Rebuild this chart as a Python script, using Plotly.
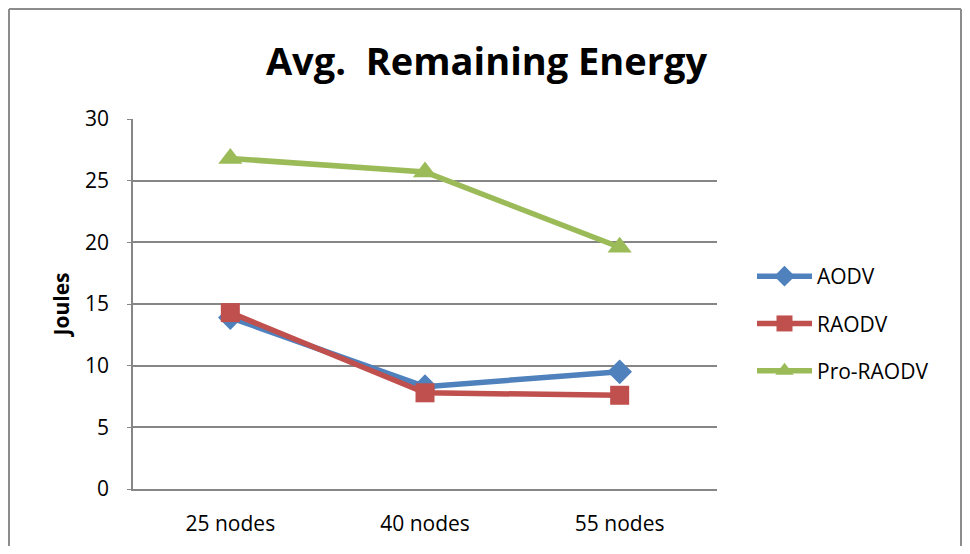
import plotly.graph_objects as go

categories = ["25 nodes", "40 nodes", "55 nodes"]
aodv = [13.9, 8.3, 9.5]
raodv = [14.3, 7.8, 7.6]
pro_raodv = [26.8, 25.7, 19.6]
y_ticks = [0, 5, 10, 15, 20, 25, 30]

series = [
    ("AODV", aodv, "#4F81BD", "diamond", 19),
    ("RAODV", raodv, "#C0504D", "square", 19),
    ("Pro-RAODV", pro_raodv, "#9BBB59", "triangle-up", 21),
]

fig = go.Figure()
for i, (name, vals, color, sym, size) in enumerate(series):
    fig.add_trace(go.Scatter(
        x=categories, y=vals, name=name, mode="lines+markers",
        legendgroup="g%d" % i,
        line=dict(color=color, width=5.5),
        marker=dict(symbol=sym, size=size, color=color),
    ))

OFF = 8  # page body margin
L, R, T, B = 133 - OFF, 717 - OFF, 119 - OFF, 489 - OFF
W, H = 970 - 2 * OFF, 554 - 2 * OFF
pw, ph = R - L, B - T

def px(x):
    return (x - OFF - L) / pw

def py(y):
    return (B - (y - OFF)) / ph

fig.update_layout(
    width=W, height=H,
    margin=dict(l=L, r=W - R, t=T, b=H - B),
    paper_bgcolor="white", plot_bgcolor="white",
    font=dict(family="Open Sans", color="black", size=21),
    title=dict(text="<b>Avg.  Remaining Energy</b>", x=((255 + 718) / 2 - OFF) / W, xanchor="center",
               y=1 - (62 - OFF) / H, yanchor="middle",
               font=dict(family="Open Sans", size=38, color="black")),
    xaxis=dict(range=[-0.5, 2.5], showgrid=False, showline=True, linecolor="#868686", linewidth=1.5,
               ticks="", tickfont=dict(size=21), ticklabelstandoff=15, automargin=False),
    yaxis=dict(range=[0, 30], tickvals=y_ticks, showgrid=True, gridcolor="#868686",
               gridwidth=1.5, showline=True, linecolor="#868686", linewidth=1.5,
               ticks="outside", ticklen=4, tickcolor="#868686", zeroline=False,
               tickfont=dict(size=21), ticklabelstandoff=14, automargin=False,
               title=dict(text="<b>Joules</b>", font=dict(size=21), standoff=10)),
    legend=dict(x=px(752), y=py(256), xanchor="left", yanchor="top",
                font=dict(size=21), tracegroupgap=17, itemsizing="trace",
                itemwidth=55, bgcolor="rgba(0,0,0,0)"),
    showlegend=True,
)

# outer chart frame (page body margin puts figure origin at 8px)
frame = dict(color="#8C8C8C", width=2)
fx0, fx1, fy0, fy1 = px(9), px(961), py(700), py(9)
fig.add_shape(type="line", xref="paper", yref="paper", x0=fx0, x1=fx1, y0=fy1, y1=fy1, line=frame)
fig.add_shape(type="line", xref="paper", yref="paper", x0=fx0, x1=fx0, y0=fy0, y1=fy1, line=frame)
fig.add_shape(type="line", xref="paper", yref="paper", x0=fx1, x1=fx1, y0=fy0, y1=fy1, line=frame)

fig.write_html("out.html")
